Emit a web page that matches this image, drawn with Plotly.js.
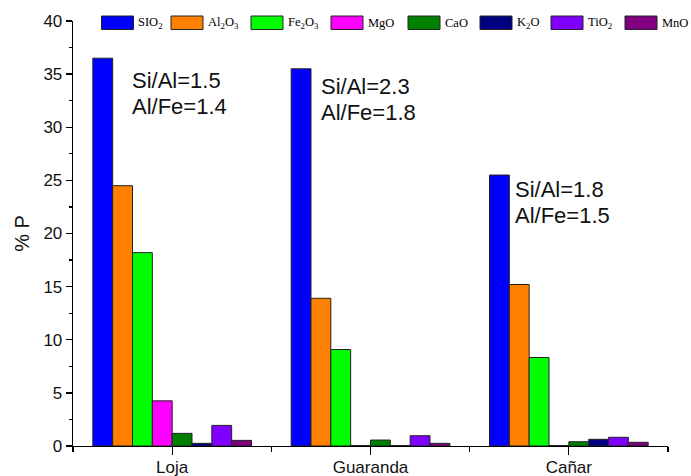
<!DOCTYPE html>
<html>
<head>
<meta charset="utf-8">
<script src="https://cdn.plot.ly/plotly-3.0.1.min.js"></script>
<style>html,body{margin:0;padding:0;background:#fff}#chart{width:691px;height:476px}</style>
</head>
<body>
<div id="chart"></div>
<script>
// ---- data ----
var categories = ["Loja", "Guaranda", "Cañar"];
var seriesNames = ["SIO<sub>2</sub>", "Al<sub>2</sub>O<sub>3</sub>", "Fe<sub>2</sub>O<sub>3</sub>", "MgO", "CaO", "K<sub>2</sub>O", "TiO<sub>2</sub>", "MnO"];
var SIO2  = [36.5, 35.5, 25.5];
var Al2O3 = [24.5, 13.9, 15.2];
var Fe2O3 = [18.2, 9.08, 8.33];
var MgO   = [4.25, 0.05, 0.05];
var CaO   = [1.19, 0.56, 0.40];
var K2O   = [0.25, 0.05, 0.63];
var TiO2  = [1.94, 0.97, 0.82];
var MnO   = [0.53, 0.25, 0.35];
var seriesValues = [SIO2, Al2O3, Fe2O3, MgO, CaO, K2O, TiO2, MnO];
var siAlLabels = ["Si/Al=1.5", "Si/Al=2.3", "Si/Al=1.8"];
var alFeLabels = ["Al/Fe=1.4", "Al/Fe=1.8", "Al/Fe=1.5"];
var yTicks = [0, 5, 10, 15, 20, 25, 30, 35, 40];

// ---- style ----
var colors = ["#0000ff", "#ff8000", "#00ff00", "#ff00ff", "#008000", "#000080", "#8000ff", "#800080"];
var xIdx = categories.map(function (c, i) { return i; });

var traces = seriesValues.map(function (vals, k) {
  return {
    type: "bar",
    x: xIdx,
    y: vals,
    name: seriesNames[k],
    marker: { color: colors[k], line: { color: "#222", width: 1 } },
    showlegend: false,
    hoverinfo: "y"
  };
});

// plot area in pixels
var L = 73, R = 668, T = 21, B = 446;
function px(x) { return (x - L) / (R - L); }
function py(y) { return (B - y) / (B - T); }
var unitPx = (B - T) / 40;

// custom legend (wide boxes)
var legendBoxX = [101.5, 171, 251, 331, 408, 480, 551, 625];
var shapes = [], annotations = [];
legendBoxX.forEach(function (bx, k) {
  shapes.push({
    type: "rect", xref: "paper", yref: "paper",
    x0: px(bx), x1: px(bx + 32), y0: py(29.5), y1: py(16),
    fillcolor: colors[k], line: { color: "#222", width: 1 }
  });
  annotations.push({
    xref: "paper", yref: "paper", x: px(bx + 34.5), y: py(23),
    xanchor: "left", yanchor: "middle", showarrow: false,
    text: seriesNames[k],
    font: { family: "Liberation Serif, Times New Roman, serif", size: 12.5, color: "#000" }
  });
});

var ratioPos = [[-0.215, 35.8], [-0.26, 35.2], [-0.28, 25.5]];
var ratioFont = { family: "Liberation Sans, Arial, sans-serif", size: 22, color: "#111" };
categories.forEach(function (c, i) {
  annotations.push({
    xref: "x", yref: "y", x: i + ratioPos[i][0], y: ratioPos[i][1],
    xanchor: "left", yanchor: "top", showarrow: false,
    text: siAlLabels[i], font: ratioFont
  });
  annotations.push({
    xref: "x", yref: "y", x: i + ratioPos[i][0], y: ratioPos[i][1] - 26 / unitPx,
    xanchor: "left", yanchor: "top", showarrow: false,
    text: alFeLabels[i], font: ratioFont
  });
});

var layout = {
  width: 691, height: 476,
  margin: { l: L, r: 691 - R, t: T, b: 476 - B, pad: 0 },
  paper_bgcolor: "#fff", plot_bgcolor: "#fff",
  font: { family: "Liberation Sans, Arial, sans-serif", color: "#111" },
  barmode: "group", bargap: 0.2, bargroupgap: 0,
  showlegend: false,
  xaxis: {
    range: [-0.5, 2.5], tickmode: "array", tickvals: xIdx, ticktext: categories,
    showgrid: false, zeroline: false, showline: true, linecolor: "#000", linewidth: 1.3,
    ticks: "outside", ticklen: 8, tickwidth: 1.3, tickcolor: "#000",
    ticklabelstandoff: -3,
    tickfont: { size: 17, color: "#111" },
    minor: { tickmode: "array", tickvals: [-0.5, 0.5, 1.5, 2.5], ticks: "outside", ticklen: 5, tickwidth: 1.3, tickcolor: "#000", showgrid: false }
  },
  yaxis: {
    range: [0, 40], tickmode: "array", tickvals: yTicks,
    showgrid: false, zeroline: false, showline: true, linecolor: "#000", linewidth: 1.3,
    ticks: "outside", ticklen: 6, tickwidth: 1.3, tickcolor: "#000",
    tickfont: { size: 17, color: "#111" },
    minor: { dtick: 2.5, ticks: "outside", ticklen: 3, tickwidth: 1.3, tickcolor: "#000", showgrid: false },
    title: { text: "% P", font: { size: 20, color: "#111" }, standoff: 8 }
  },
  shapes: shapes,
  annotations: annotations
};

Plotly.newPlot("chart", traces, layout, { displayModeBar: false, staticPlot: true });
</script>
</body>
</html>
